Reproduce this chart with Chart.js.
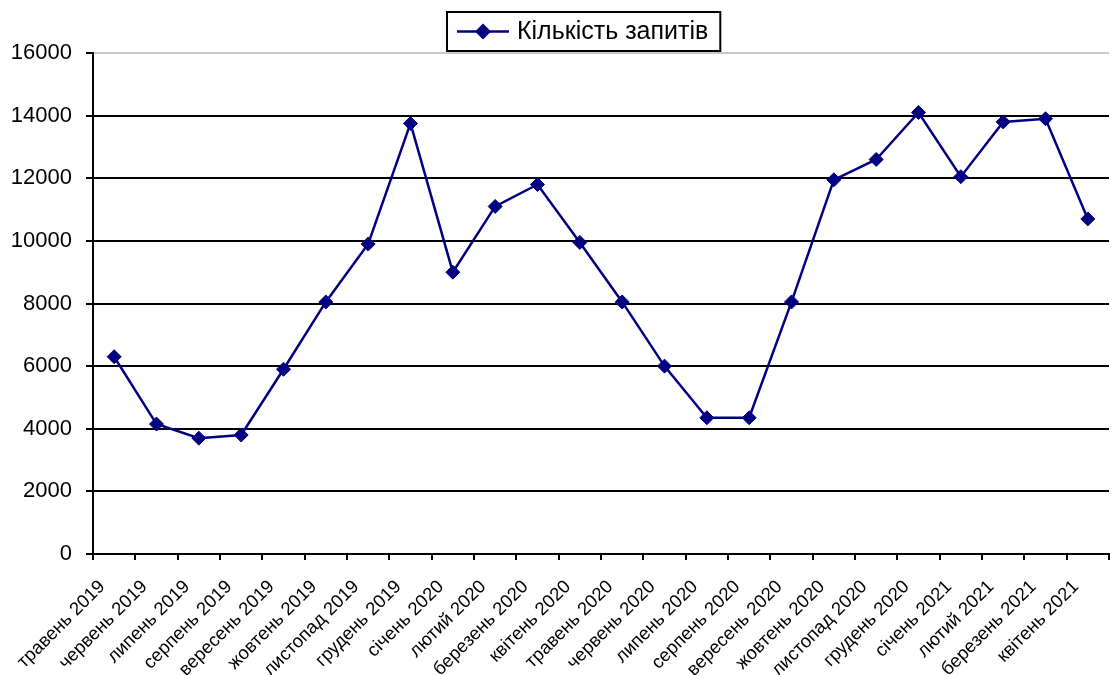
<!DOCTYPE html>
<html>
<head>
<meta charset="utf-8">
<title>Кількість запитів</title>
<script src="https://cdn.jsdelivr.net/npm/chart.js@4.4.1/dist/chart.umd.min.js"></script>
<style>
  html, body { margin: 0; padding: 0; background: #fff; }
  #wrap { width: 1117px; height: 675px; position: relative; }
</style>
</head>
<body>
<div id="wrap"><canvas id="requestsChart"></canvas></div>
<script>
// months on the x axis
var months = [
  'травень 2019', 'червень 2019', 'липень 2019', 'серпень 2019', 'вересень 2019',
  'жовтень 2019', 'листопад 2019', 'грудень 2019', 'січень 2020', 'лютий 2020',
  'березень 2020', 'квітень 2020', 'травень 2020', 'червень 2020', 'липень 2020',
  'серпень 2020', 'вересень 2020', 'жовтень 2020', 'листопад 2020', 'грудень 2020',
  'січень 2021', 'лютий 2021', 'березень 2021', 'квітень 2021'
];

// number of requests per month
var requests = [
  6300, 4150, 3700, 3800, 5900,
  8050, 9900, 13750, 9000, 11100,
  11800, 9950, 8050, 6000, 4350,
  4350, 8050, 11950, 12600, 14100,
  12050, 13800, 13900, 10700
];

var seriesName = 'Кількість запитів';
var yTicks = [0, 2000, 4000, 6000, 8000, 10000, 12000, 14000, 16000];

var fontFamily = "'Liberation Sans', Arial, sans-serif";
var navy = '#000080';

// legend in a framed box: line with a diamond, then the series name
var boxedLegend = {
  id: 'boxedLegend',
  afterDraw: function (chart) {
    var ctx = chart.ctx;
    var left = 447, top = 12, h = 39;
    ctx.save();
    ctx.font = '25px ' + fontFamily;
    var textW = ctx.measureText(seriesName).width;
    var w = 70 + textW + 12;
    ctx.fillStyle = '#fff';
    ctx.fillRect(left, top, w, h);
    ctx.lineWidth = 2;
    ctx.strokeStyle = '#000';
    ctx.strokeRect(left, top, w, h);

    var cy = top + h / 2;
    ctx.strokeStyle = navy;
    ctx.lineWidth = 2.5;
    ctx.beginPath();
    ctx.moveTo(left + 10, cy);
    ctx.lineTo(left + 62, cy);
    ctx.stroke();
    ctx.fillStyle = navy;
    ctx.beginPath();
    ctx.moveTo(left + 36, cy - 8);
    ctx.lineTo(left + 44, cy);
    ctx.lineTo(left + 36, cy + 8);
    ctx.lineTo(left + 28, cy);
    ctx.closePath();
    ctx.fill();

    ctx.fillStyle = '#000';
    ctx.textBaseline = 'middle';
    ctx.textAlign = 'left';
    ctx.fillText(seriesName, left + 70, cy + 1);
    ctx.restore();
  }
};

var requestsChart = document.getElementById('requestsChart');
var requestsChartConfig = {
  type: 'line',
  data: {
    labels: months,
    datasets: [{
      label: seriesName,
      data: requests,
      borderColor: navy,
      borderWidth: 2.5,
      backgroundColor: navy,
      pointStyle: 'rectRot',
      pointRadius: 7,
      pointBorderWidth: 1,
      pointBorderColor: navy,
      pointBackgroundColor: navy,
      tension: 0
    }]
  },
  options: {
    responsive: true,
    maintainAspectRatio: false,
    animation: false,
    layout: {
      padding: { top: 53, left: 10, right: 6, bottom: 0 }
    },
    plugins: {
      legend: { display: false },
      tooltip: { enabled: false }
    },
    scales: {
      x: {
        offset: true,
        grid: {
          offset: true,
          drawOnChartArea: false,
          tickLength: 6,
          tickColor: '#000',
          lineWidth: 2
        },
        border: { color: '#000', width: 2 },
        ticks: {
          color: '#000',
          font: { family: fontFamily, size: 18.5 },
          minRotation: 45,
          maxRotation: 45,
          autoSkip: false,
          padding: 16,
          labelOffset: -12
        },
        afterFit: function (scale) {
          scale.height = 121;
          // rotated labels should not squeeze the plot sideways
          scale.paddingLeft = 0;
          scale.paddingRight = 0;
        }
      },
      y: {
        min: 0,
        max: 16000,
        afterBuildTicks: function (scale) {
          scale.ticks = yTicks.map(function (v) { return { value: v }; });
        },
        grid: {
          color: function (c) { return c.tick && c.tick.value === 16000 ? '#c8c8c8' : '#000'; },
          tickColor: '#000',
          lineWidth: 2,
          tickLength: 7
        },
        border: { color: '#000', width: 2 },
        ticks: {
          color: '#000',
          font: { family: fontFamily, size: 22 },
          padding: 14,
          callback: function (v) { return String(v); }
        },
        afterFit: function (scale) { scale.width = 83; }
      }
    }
  },
  plugins: [boxedLegend]
};
var requestsChartObj = new Chart(requestsChart, requestsChartConfig);
</script>
</body>
</html>
